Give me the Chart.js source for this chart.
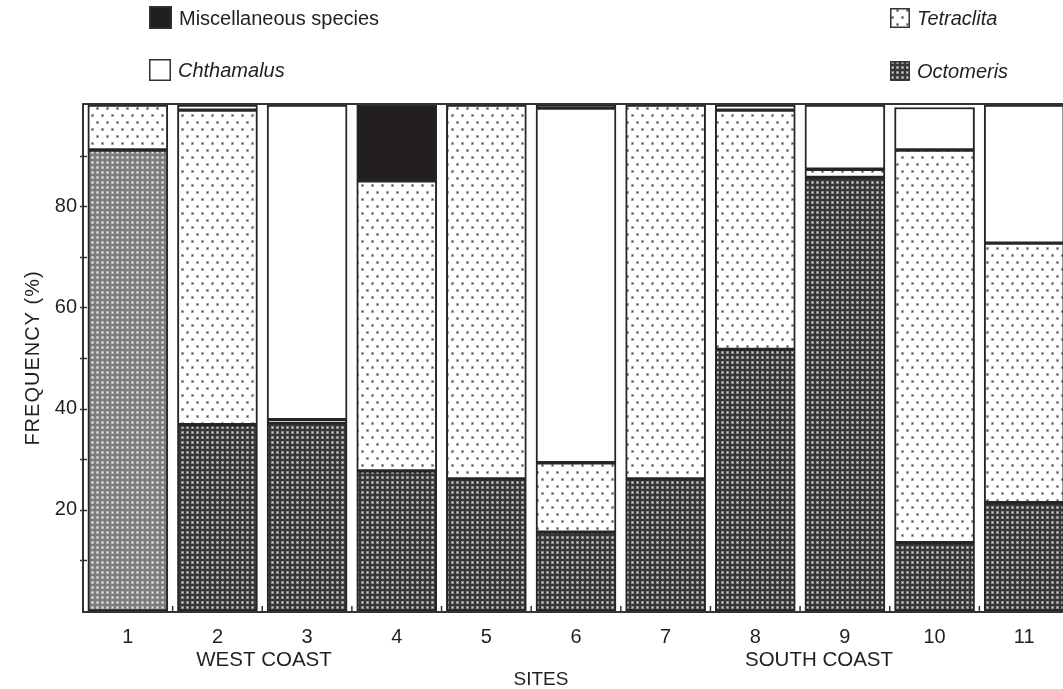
<!DOCTYPE html>
<html>
<head>
<meta charset="utf-8">
<script src="https://cdn.jsdelivr.net/npm/chart.js@4.4.1/dist/chart.umd.min.js"></script>
<style>
  html, body { margin: 0; padding: 0; background: #fff; overflow: hidden; }
  canvas { display: block; }
</style>
</head>
<body>
<canvas id="c" width="1080" height="689"></canvas>
<script>
// Barnacle species composition (%) at each site
const sites = ['1', '2', '3', '4', '5', '6', '7', '8', '9', '10', '11'];
const octomeris     = [91.1, 36.8, 37.2, 27.7, 26.1, 15.6, 26.1, 51.7, 85.7, 13.5, 21.4];
const tetraclita    = [8.9, 62.2, 0.6, 57.3, 73.9, 13.7, 73.9, 47.3, 1.6, 77.6, 51.3];
const chthamalus    = [null, 1.0, 62.2, null, null, 70.1, null, 1.0, 12.7, 8.4, 27.3];
const miscellaneous = [null, null, null, 15.0, null, 0.6, null, null, null, null, null];
const yTickLabels = [20, 40, 60, 80];
const coastLabels = ['WEST COAST', 'SOUTH COAST'];

const INK = '#231f20';
const FONT = '"Liberation Sans", Arial, sans-serif';

function makePattern(w, h, paint) {
  const cv = document.createElement('canvas');
  cv.width = w; cv.height = h;
  const g = cv.getContext('2d');
  paint(g, w, h);
  return g.createPattern(cv, 'repeat');
}

// dense dark checker with light dots
function checker(bg, dot, halo) {
  return makePattern(5, 5, (g) => {
    g.fillStyle = bg; g.fillRect(0, 0, 5, 5);
    g.fillStyle = halo; g.fillRect(1, 1, 3, 3);
    g.fillStyle = dot; g.fillRect(2, 2, 1, 1);
  });
}
const octoDark = checker('#363636', '#e0e0e0', '#8a8a8a');
const octoLight = checker('#7c7c7c', '#f0f0f0', '#b4b4b4');

// sparse grey dots on white
const tetraPattern = makePattern(10, 14, (g) => {
  g.fillStyle = '#ffffff'; g.fillRect(0, 0, 10, 14);
  const dot = (x, y) => {
    g.fillStyle = '#a8a8a8'; g.fillRect(x - 1, y - 1, 3, 3);
    g.fillStyle = '#3c3c3c'; g.fillRect(x, y, 1, 1);
  };
  dot(2, 3); dot(7, 10);
});

const octoColors = sites.map((s, i) => i === 0 ? octoLight : octoDark);

const frameAndText = {
  id: 'frameAndText',
  afterDatasetsDraw(chart) {
    const { ctx, chartArea: a, scales: { x, y } } = chart;
    ctx.save();
    ctx.strokeStyle = '#333';
    ctx.lineWidth = 2;
    // top rule
    ctx.beginPath(); ctx.moveTo(a.left, a.top - 1); ctx.lineTo(a.right + 20, a.top - 1); ctx.stroke();
    // left axis
    ctx.beginPath(); ctx.moveTo(a.left, a.top - 2); ctx.lineTo(a.left, a.bottom + 2); ctx.stroke();
    // bottom axis
    ctx.beginPath(); ctx.moveTo(a.left - 1, a.bottom + 1); ctx.lineTo(a.right + 20, a.bottom + 1); ctx.stroke();
    // y ticks every 10
    ctx.lineWidth = 1.5;
    for (let v = 10; v < 100; v += 10) {
      const py = Math.round(y.getPixelForValue(v)) + 0.5;
      ctx.beginPath(); ctx.moveTo(a.left - 3, py); ctx.lineTo(a.left + 4, py); ctx.stroke();
    }
    // small marks between sites
    for (let i = 0; i <= sites.length; i++) {
      const px = x.getPixelForValue(i - 0.5);
      ctx.beginPath(); ctx.moveTo(px, a.bottom); ctx.lineTo(px, a.bottom - 5); ctx.stroke();
    }
    ctx.restore();
  },
  afterDraw(chart) {
    const { ctx, chartArea: a } = chart;
    ctx.save();
    ctx.fillStyle = INK;
    ctx.textBaseline = 'middle';
    // y title
    ctx.save();
    ctx.translate(33, (a.top + a.bottom) / 2);
    ctx.rotate(-Math.PI / 2);
    ctx.textAlign = 'center';
    ctx.font = '20px ' + FONT;
    ctx.letterSpacing = '1px';
    ctx.fillText('FREQUENCY (%)', 0, 0);
    ctx.restore();
    // coast and axis labels
    ctx.textAlign = 'center';
    ctx.font = '20.5px ' + FONT;
    ctx.fillText(coastLabels[0], 264, 660);
    ctx.fillText(coastLabels[1], 819, 660);
    ctx.font = '19px ' + FONT;
    ctx.fillText('SITES', 541, 680);

    // legend
    const ds = chart.data.datasets;
    const entries = [
      { d: ds[3], fill: INK, x: 149, y: 6, s: 23, italic: false },
      { d: ds[2], fill: '#ffffff', x: 149, y: 59, s: 22, italic: true },
      { d: ds[1], fill: tetraPattern, x: 890, y: 8, s: 20, italic: true },
      { d: ds[0], fill: octoDark, x: 890, y: 61, s: 20, italic: true }
    ];
    entries.forEach((e) => {
      const s = e.s;
      ctx.fillStyle = e.fill;
      ctx.fillRect(e.x, e.y, s, s);
      ctx.strokeStyle = '#333';
      ctx.lineWidth = 1.5;
      ctx.strokeRect(e.x + 0.75, e.y + 0.75, s - 1.5, s - 1.5);
      ctx.fillStyle = INK;
      ctx.textAlign = 'left';
      ctx.font = (e.italic ? 'italic ' : '') + '20px ' + FONT;
      ctx.fillText(e.d.label, e.x + s + 7, e.y + s / 2 + 1.5);
    });
    ctx.restore();
  }
};

const common = { borderColor: '#262626', borderWidth: 2, borderSkipped: false, barThickness: 80 };

new Chart(document.getElementById('c'), {
  type: 'bar',
  data: {
    labels: sites,
    datasets: [
      { label: 'Octomeris', data: octomeris, backgroundColor: octoColors, ...common },
      { label: 'Tetraclita', data: tetraclita, backgroundColor: tetraPattern, ...common },
      { label: 'Chthamalus', data: chthamalus, backgroundColor: '#ffffff', ...common },
      { label: 'Miscellaneous species', data: miscellaneous, backgroundColor: INK, ...common }
    ]
  },
  options: {
    responsive: false,
    animation: false,
    devicePixelRatio: 1,
    layout: { padding: { left: 0, top: 105, right: 11, bottom: 0 } },
    plugins: { legend: { display: false }, tooltip: { enabled: false } },
    scales: {
      x: {
        stacked: true,
        offset: true,
        grid: { display: false, drawTicks: false },
        border: { display: false },
        ticks: { color: INK, font: { family: FONT, size: 20 }, padding: 14, maxRotation: 0, autoSkip: false },
        afterFit(scale) { scale.height = 78; }
      },
      y: {
        stacked: true,
        min: 0,
        max: 100,
        grid: { display: false, drawTicks: false },
        border: { display: false },
        ticks: {
          stepSize: 10,
          padding: 6,
          color: INK,
          font: { family: FONT, size: 20 },
          callback: (v) => yTickLabels.includes(v) ? String(v) : ''
        },
        afterFit(scale) { scale.width = 83; }
      }
    }
  },
  plugins: [frameAndText]
});
</script>
</body>
</html>
